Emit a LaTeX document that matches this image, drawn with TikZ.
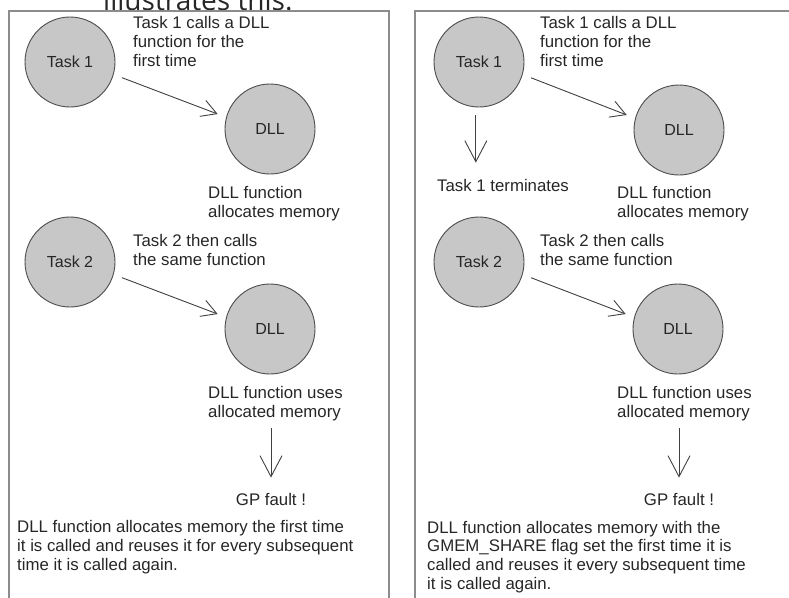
\documentclass[tikz,border=0pt]{standalone}
\usepackage{fontspec}
\setmainfont{Liberation Sans}
\newfontfamily\headfont{Open Sans}
\usetikzlibrary{arrows.meta}

\begin{document}
\begin{tikzpicture}[x=1pt,y=-1pt]
\tikzstyle{task}=[circle,draw=black!70,fill=black!22,line width=0.9pt,minimum size=90pt,inner sep=0pt,text=black!85,font=\fontsize{16}{18}\selectfont]
\tikzstyle{note}=[align=left,inner sep=0pt,anchor=base west,text=black!85,font=\fontsize{16.8}{18.6}\selectfont]
\tikzstyle{call}=[-{Straight Barb[length=15pt,width=17pt]},draw=black!75,line width=0.9pt,shorten <=9pt,shorten >=9pt]
\tikzstyle{drop}=[-{Straight Barb[length=21pt,width=22pt]},draw=black!75,line width=0.9pt]
\tikzstyle{panel}=[draw=black!45,line width=2pt]
\useasboundingbox (0,0) rectangle (789,597);
\clip (0,0) rectangle (789,597);
\node[anchor=base west,inner sep=0pt,text=black!85,font=\headfont\fontsize{28}{30}\selectfont] (head) at (103,10) {illustrates this.};
\draw[panel] (9,600) |- (389,11) -- (389,600);
\draw[panel] (415,600) |- (795,11);
% left: no shared memory
\node[task] (t1) at (70,62) {Task 1};
\node[note] (c1) at (133,66) {Task 1 calls a DLL\\function for the\\first time};
\node[task] (d1) at (270,129) {DLL};
\node[note] (a1) at (208,217) {DLL function\\allocates memory};
\node[task] (t2) at (70,262) {Task 2};
\node[note] (c2) at (133,265) {Task 2 then calls\\the same function};
\node[task] (d2) at (270,329) {DLL};
\node[note] (u2) at (208,417) {DLL function uses\\allocated memory};
\node[note,anchor=base] (gp) at (271,505) {GP fault !};
\node[note] (sum) at (17,570) {DLL function allocates memory the first time\\it is called and reuses it for every subsequent\\time it is called again.};
\draw[call] (t1.-16) -- (d1.165);
\draw[call] (t2.-16) -- (d2.165);
\draw[drop,shorten <=7.5pt,shorten >=15pt] (gp.north |- u2.south) -- (gp.north);
% right: GMEM_SHARE
\node[task] (rt1) at (479,62) {Task 1};
\node[note] (rc1) at (540,66) {Task 1 calls a DLL\\function for the\\first time};
\node[task] (rd1) at (679,130) {DLL};
\node[note] (rterm) at (437,191) {Task 1 terminates};
\node[note] (ra1) at (617,217) {DLL function\\allocates memory};
\node[task] (rt2) at (479,262) {Task 2};
\node[note] (rc2) at (540,265) {Task 2 then calls\\the same function};
\node[task] (rd2) at (678,329) {DLL};
\node[note] (ru2) at (617,417) {DLL function uses\\allocated memory};
\node[note,anchor=base] (rgp) at (679,505) {GP fault !};
\node[note] (rsum) at (427,589) {DLL function allocates memory with the\\GMEM\_SHARE flag set the first time it is\\called and reuses it every subsequent time\\it is called again.};
\draw[call] (rt1.-16) -- (rd1.165);
\draw[call] (rt2.-16) -- (rd2.165);
\draw[drop,shorten <=8pt,shorten >=16pt] (rt1.266) -- (rt1.266 |- rterm.north);
\draw[drop,shorten <=7.5pt,shorten >=15pt] (rgp.north |- ru2.south) -- (rgp.north);
\end{tikzpicture}
\end{document}
